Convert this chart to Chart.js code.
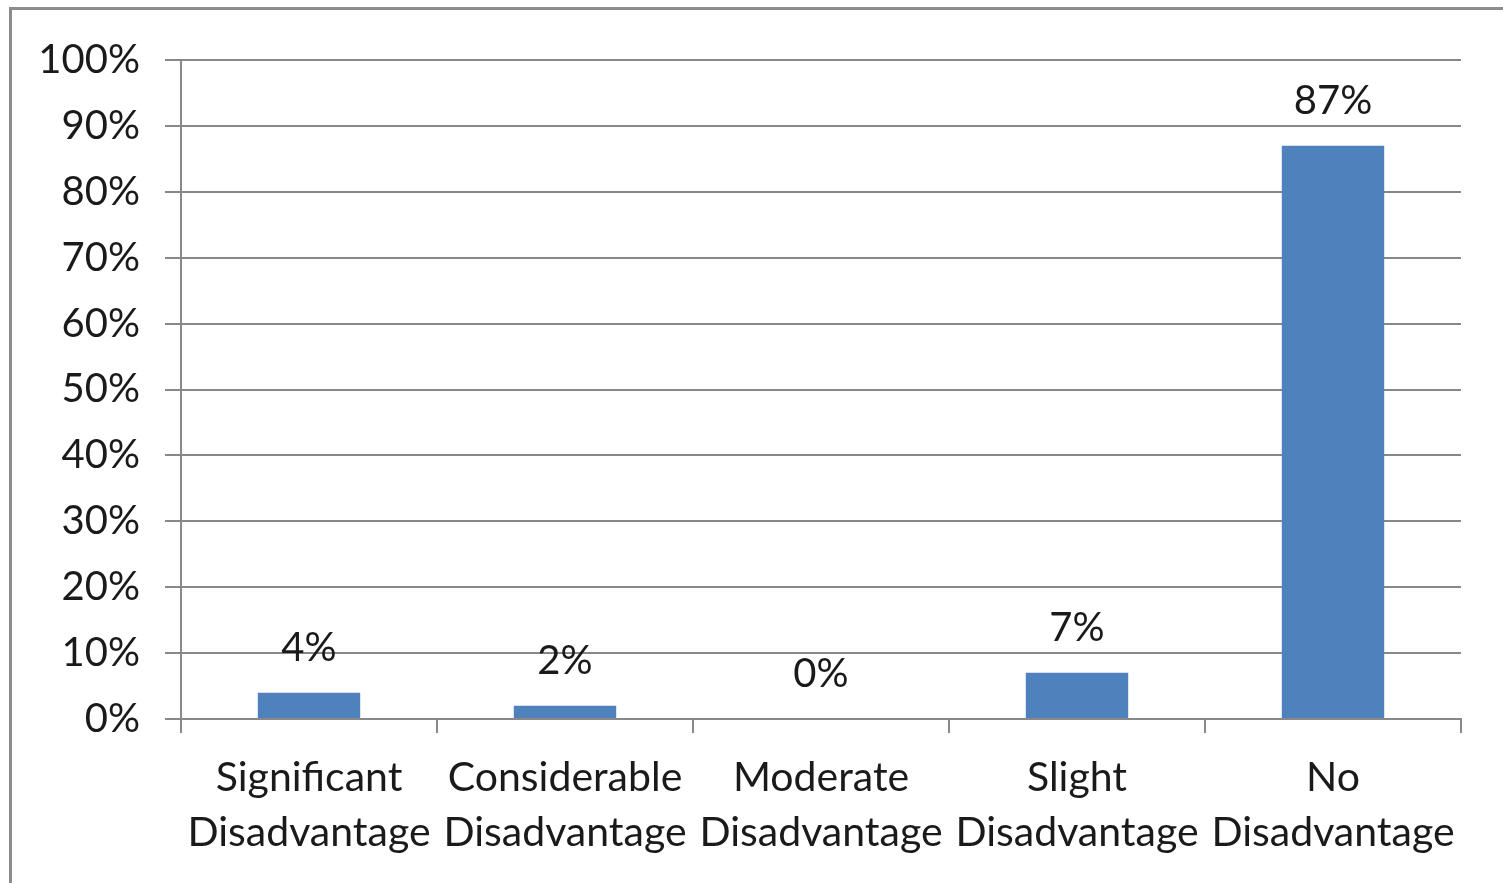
<!DOCTYPE html>
<html>
<head>
<meta charset="utf-8">
<script src="https://cdn.jsdelivr.net/npm/chart.js@4.4.1/dist/chart.umd.min.js"></script>
<style>
  html, body { margin: 0; padding: 0; background: #fff; overflow: hidden; }
  #frame {
    position: absolute; left: 9px; top: 7px;
    width: 1700px; height: 1100px;
    border: 3px solid #8c8c8c; box-sizing: border-box;
  }
  #wrap { position: absolute; left: 0; top: 0; width: 1503px; height: 883px; }
</style>
</head>
<body>
<div id="frame"></div>
<div id="wrap"><canvas id="chart"></canvas></div>
<script>
// datos
const categories = [
  ["Significant", "Disadvantage"],
  ["Considerable", "Disadvantage"],
  ["Moderate", "Disadvantage"],
  ["Slight", "Disadvantage"],
  ["No", "Disadvantage"]
];
const values = [4, 2, 0, 7, 87];
const yTicks = [0, 10, 20, 30, 40, 50, 60, 70, 80, 90, 100];

const FONT = "Lato";
const textColor = "#1a1a1a";
const gridColor = "#888888";

// etiquetas encima de cada barra
const barLabels = {
  id: "barLabels",
  afterDatasetsDraw(chart) {
    const ctx = chart.ctx;
    const meta = chart.getDatasetMeta(0);
    ctx.save();
    ctx.font = "40px " + FONT;
    ctx.fillStyle = textColor;
    ctx.textAlign = "center";
    ctx.textBaseline = "middle";
    meta.data.forEach((bar, i) => {
      ctx.fillText(values[i] + "%", bar.x, bar.y - 45);
    });
    ctx.restore();
  }
};

new Chart(document.getElementById("chart"), {
  type: "bar",
  data: {
    labels: categories,
    datasets: [{
      data: values,
      backgroundColor: "#4f81bd",
      barPercentage: 0.4,
      categoryPercentage: 1.0
    }]
  },
  options: {
    responsive: true,
    maintainAspectRatio: false,
    animation: false,
    layout: { padding: { left: 0, right: 42, top: 60, bottom: 0 } },
    plugins: { legend: { display: false }, tooltip: { enabled: false } },
    scales: {
      x: {
        afterFit: (s) => { s.height = 164; },
        grid: {
          drawOnChartArea: false,
          drawTicks: true,
          tickLength: 14,
          color: gridColor,
          lineWidth: 2
        },
        border: { color: gridColor, width: 2 },
        ticks: {
          color: textColor,
          font: { family: FONT, size: 41, lineHeight: 1.35 },
          padding: 17,
          maxRotation: 0,
          autoSkip: false
        }
      },
      y: {
        min: 0,
        max: 100,
        afterFit: (s) => { s.width = 181; },
        afterBuildTicks: (s) => { s.ticks = yTicks.map(v => ({ value: v })); },
        grid: {
          color: gridColor,
          lineWidth: 2,
          tickLength: 16
        },
        border: { color: gridColor, width: 2 },
        ticks: {
          color: textColor,
          font: { family: FONT, size: 40 },
          padding: 25,
          callback: (v) => v + "%"
        }
      }
    }
  },
  plugins: [barLabels]
});
</script>
</body>
</html>
